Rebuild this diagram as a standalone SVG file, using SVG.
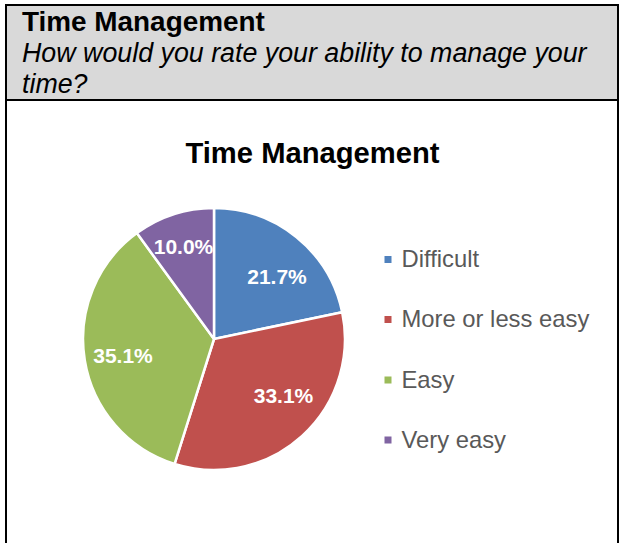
<svg xmlns="http://www.w3.org/2000/svg" width="619" height="543" viewBox="0 0 619 543">
<style>
.hdr{font-family:"Liberation Sans",Arial,sans-serif;fill:#000}
.lbl{font-family:"Liberation Sans",Arial,sans-serif;font-weight:bold;font-size:21px;fill:#fff;text-anchor:middle}
.leg{font-family:"Liberation Sans",Arial,sans-serif;font-size:23.8px;fill:#595959}
.sl{stroke:#fff;stroke-width:2.5;stroke-linejoin:round}
</style>
<rect width="619" height="543" fill="#fff"/>
<g id="header">
<rect x="6" y="5" width="612" height="95" fill="#d9d9d9"/>
<text class="hdr" x="22" y="31" font-size="27.9" font-weight="bold">Time Management</text>
<text class="hdr" x="22" y="62" font-size="26.8" font-style="italic">How would you rate your ability to manage your</text>
<text class="hdr" x="22" y="93" font-size="26.8" font-style="italic">time?</text>
</g>
<g id="frame" fill="none" stroke="#000" stroke-width="2">
<path d="M6,545 V5 H618 V545"/>
<path d="M6,100 H618"/>
</g>
<g id="chart-title">
<text class="hdr" x="312.5" y="163" font-size="29.2" font-weight="bold" text-anchor="middle">Time Management</text>
</g>
<g id="pie">
<g id="slice-difficult"><path class="sl" fill="#4f81bd" d="M214,339 L214,208 A131,131 0 0 1 342.2,312.2 Z"/><text class="lbl" x="277" y="284">21.7%</text></g>
<g id="slice-more-or-less-easy"><path class="sl" fill="#c0504d" d="M214,339 L342.2,312.2 A131,131 0 0 1 174.6,463.9 Z"/><text class="lbl" x="283.5" y="403">33.1%</text></g>
<g id="slice-easy"><path class="sl" fill="#9bbb59" d="M214,339 L174.6,463.9 A131,131 0 0 1 136.9,233.1 Z"/><text class="lbl" x="123" y="363">35.1%</text></g>
<g id="slice-very-easy"><path class="sl" fill="#8064a2" d="M214,339 L136.9,233.1 A131,131 0 0 1 214,208 Z"/><text class="lbl" x="183.5" y="254">10.0%</text></g>
</g>
<g id="legend">
<g id="leg-difficult"><rect x="384.5" y="256" width="7" height="7" fill="#4f81bd"/><text class="leg" x="401.5" y="267">Difficult</text></g>
<g id="leg-more"><rect x="384.5" y="316" width="7" height="7" fill="#c0504d"/><text class="leg" x="401.5" y="327">More or less easy</text></g>
<g id="leg-easy"><rect x="384.5" y="376.5" width="7" height="7" fill="#9bbb59"/><text class="leg" x="401.5" y="388">Easy</text></g>
<g id="leg-very"><rect x="384.5" y="436.5" width="7" height="7" fill="#8064a2"/><text class="leg" x="401.5" y="448">Very easy</text></g>
</g>
</svg>
